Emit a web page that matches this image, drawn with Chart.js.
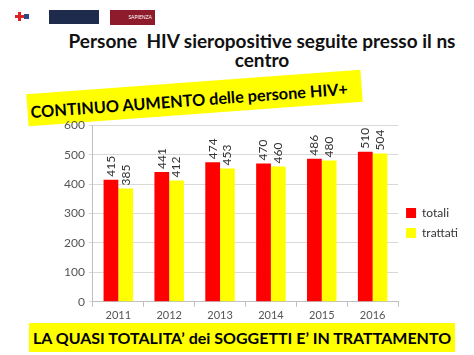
<!DOCTYPE html>
<html>
<head>
<meta charset="utf-8">
<script src="https://cdn.jsdelivr.net/npm/chart.js@4.4.0/dist/chart.umd.min.js"></script>
<style>
  body { margin: 0; width: 474px; height: 355px; background: #fff; position: relative; overflow: hidden; font-family: Lato, "Open Sans", sans-serif; }
  .titolo { position: absolute; left: 0; width: 524px; top: 31px; text-align: center; font-weight: bold; font-size: 19px; line-height: 19px; color: #111; }
  .banner { position: absolute; background: #ffff00; font-weight: bold; color: #000; white-space: nowrap; }
  #b1 { left: 27px; top: 82px; width: 332px; height: 32px; font-size: 16.3px; line-height: 35px; padding-left: 3px; transform: rotate(-4.2deg); transform-origin: center; }
  #b2 { left: 29px; top: 323px; width: 426px; height: 29px; font-size: 16px; line-height: 29px; text-align: center; }
  #wrap { position: absolute; left: 0; top: 114px; width: 474px; height: 210px; }
  .logo { position: absolute; }
</style>
</head>
<body>
<div class="logo" style="left:15px;top:15px;width:9px;height:3px;background:#d22;"></div>
<div class="logo" style="left:18px;top:12px;width:3px;height:9px;background:#d22;"></div>
<div class="logo" style="left:24px;top:14px;width:5px;height:5px;background:#2a4a8a;"></div>
<div class="logo" style="left:49px;top:10px;width:50px;height:14px;background:#1e2b4d;"></div>
<div class="logo" style="left:110px;top:10px;width:45px;height:15px;background:#8e1b2c;color:#fff;font-size:5px;line-height:15px;text-align:right;padding-right:3px;box-sizing:border-box;">SAPIENZA</div>

<div class="titolo">Persone&nbsp; HIV sieropositive seguite presso il ns<br>centro</div>
<div class="banner" id="b1">CONTINUO AUMENTO delle persone HIV+</div>
<div id="wrap"><canvas id="grafico"></canvas></div>
<div class="banner" id="b2">LA QUASI TOTALITA’ dei SOGGETTI E’ IN TRATTAMENTO</div>

<script>
// Dati
const anni = ['2011', '2012', '2013', '2014', '2015', '2016'];
const totali = [415, 441, 474, 470, 486, 510];
const trattati = [385, 412, 453, 460, 480, 504];

// Etichette verticali sopra le barre
const etichetteBarre = {
    id: 'etichetteBarre',
    afterDatasetsDraw(chart) {
        const ctx = chart.ctx;
        ctx.save();
        ctx.font = '12px Lato, sans-serif';
        ctx.fillStyle = '#333';
        ctx.textAlign = 'left';
        ctx.textBaseline = 'middle';
        chart.data.datasets.forEach((ds, i) => {
            chart.getDatasetMeta(i).data.forEach((bar, j) => {
                ctx.save();
                ctx.translate(bar.x, bar.y - 3);
                ctx.rotate(-Math.PI / 2);
                ctx.fillText(ds.data[j], 0, 0);
                ctx.restore();
            });
        });
        ctx.restore();
    }
};

new Chart(document.getElementById('grafico'), {
    type: 'bar',
    data: {
        labels: anni,
        datasets: [
            { label: 'totali', data: totali, backgroundColor: '#ff0000' },
            { label: 'trattati', data: trattati, backgroundColor: '#ffff00' }
        ]
    },
    options: {
        responsive: true,
        maintainAspectRatio: false,
        animation: false,
        layout: { padding: { left: 60, top: 8, right: 6, bottom: 0 } },
        datasets: { bar: { categoryPercentage: 0.58, barPercentage: 1 } },
        scales: {
            x: {
                grid: { offset: true, drawOnChartArea: false, color: '#bfbfbf', tickLength: 5 },
                border: { color: '#bfbfbf' },
                ticks: { color: '#555', font: { size: 11, family: 'Lato' }, padding: 2 }
            },
            y: {
                min: 0, max: 600,
                ticks: { stepSize: 100, color: '#555', font: { size: 12, family: 'Lato' }, padding: 4 },
                grid: { color: '#d9d9d9', tickLength: 4 },
                border: { color: '#bfbfbf' }
            }
        },
        plugins: {
            legend: {
                position: 'right',
                labels: { boxWidth: 10, boxHeight: 10, padding: 8, color: '#333', font: { size: 12, family: 'Lato' } }
            },
            tooltip: { enabled: false }
        }
    },
    plugins: [etichetteBarre]
});
</script>
</body>
</html>
